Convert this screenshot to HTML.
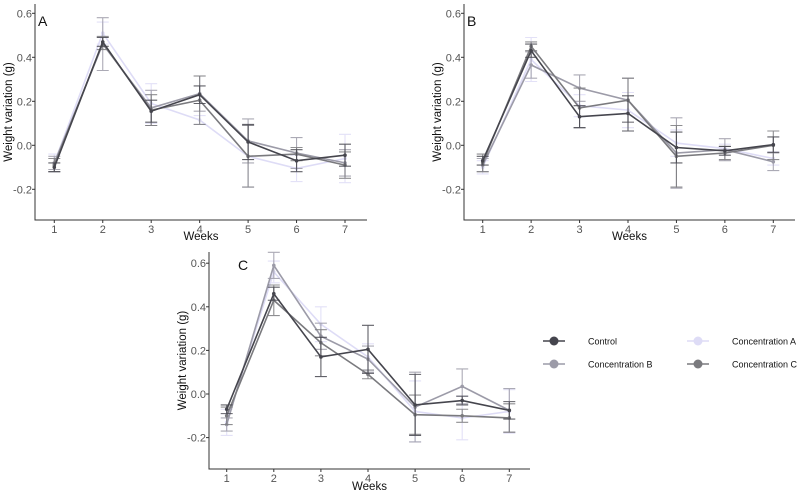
<!DOCTYPE html>
<html><head><meta charset="utf-8"><style>
html,body{margin:0;padding:0;background:#fff;}
svg{display:block;font-family:"Liberation Sans",sans-serif;}
</style></head><body>
<svg id="c" width="800" height="496" viewBox="0 0 800 496"></svg>
<script>
const weeks=[1,2,3,4,5,6,7];
const yTicks=[-0.2,0.0,0.2,0.4,0.6];
const yTickLabels=["-0.2","0.0","0.2","0.4","0.6"];
const seriesNames=["Control","Concentration A","Concentration B","Concentration C"];
const panelLabels=["A","B","C"];
// Panel A
const aControl=[-0.10,0.47,0.155,0.23,0.015,-0.07,-0.045];
const aConcA=[-0.08,0.51,0.19,0.115,-0.05,-0.105,-0.06];
const aConcB=[-0.08,0.46,0.17,0.235,0.02,-0.035,-0.08];
const aConcC=[-0.09,0.465,0.16,0.205,-0.05,-0.04,-0.09];
const aErrControl=[0.02,0.02,0.05,0.04,0.08,0.05,0.05];
const aErrA=[0.04,0.05,0.09,0.02,0.14,0.06,0.11];
const aErrB=[0.03,0.12,0.08,0.08,0.10,0.07,0.06];
const aErrC=[0.03,0.03,0.07,0.11,0.14,0.03,0.06];
// Panel B
const bControl=[-0.07,0.43,0.13,0.145,-0.01,-0.025,0.003];
const bConcA=[-0.10,0.39,0.18,0.16,0.01,-0.015,-0.06];
const bConcB=[-0.09,0.365,0.26,0.205,-0.035,-0.02,-0.075];
const bConcC=[-0.08,0.45,0.17,0.205,-0.05,-0.035,0.0];
const bErrControl=[0.02,0.03,0.05,0.08,0.07,0.02,0.035];
const bErrA=[0.03,0.10,0.05,0.08,0.06,0.02,0.03];
const bErrB=[0.03,0.06,0.06,0.10,0.16,0.05,0.04];
const bErrC=[0.04,0.02,0.09,0.10,0.14,0.03,0.065];
// Panel C
const cControl=[-0.07,0.46,0.17,0.205,-0.05,-0.03,-0.075];
const cConcA=[-0.13,0.56,0.32,0.17,-0.08,-0.11,-0.08];
const cConcB=[-0.14,0.59,0.265,0.16,-0.06,0.035,-0.075];
const cConcC=[-0.10,0.43,0.235,0.09,-0.095,-0.10,-0.11];
const cErrControl=[0.02,0.03,0.09,0.11,0.14,0.02,0.04];
const cErrA=[0.06,0.05,0.08,0.06,0.14,0.10,0.10];
const cErrB=[0.03,0.06,0.06,0.06,0.16,0.08,0.10];
const cErrC=[0.04,0.07,0.06,0.02,0.09,0.03,0.065];

const colors=["#45454d","#dedcf6","#9c9ba8","#7a7a7e"];
const svg=document.getElementById('c');
const NS="http://www.w3.org/2000/svg";
function mk(tag,attrs,parent){const e=document.createElementNS(NS,tag);for(const k in attrs)e.setAttribute(k,attrs[k]);(parent||svg).appendChild(e);return e;}

const panels=[
 {left:35,right:367,top:4,bottom:220,x1:54.3,x7:345,y0:145.3,ppu:220,lab:"A",lx:38,ly:26,title:240,tx:8,
  series:[aControl,aConcA,aConcB,aConcC],err:[aErrControl,aErrA,aErrB,aErrC]},
 {left:464,right:795,top:4,bottom:220,x1:482.7,x7:773.3,y0:145.3,ppu:220,lab:"B",lx:467,ly:26,title:240,tx:437,
  series:[bControl,bConcA,bConcB,bConcC],err:[bErrControl,bErrA,bErrB,bErrC]},
 {left:209,right:530,top:252,bottom:469,x1:226.7,x7:509.3,y0:394,ppu:218,lab:"C",lx:238,ly:270,title:490,tx:182,
  series:[cControl,cConcA,cConcB,cConcC],err:[cErrControl,cErrA,cErrB,cErrC]}
];
panels.forEach((p,pi)=>{
  const g=mk('g',{});
  
  
  const xs=w=>p.x1+(w-1)*(p.x7-p.x1)/6;
  const ys=v=>p.y0-v*p.ppu;
  const ax=mk('path',{d:`M${p.left},${p.top}V${p.bottom}H${p.right}`,stroke:'#333',fill:'none','stroke-width':1},g);
  
  yTicks.forEach((t,i)=>{
    mk('line',{x1:p.left-3,x2:p.left,y1:ys(t),y2:ys(t),stroke:'#333'},g);
    const tx=mk('text',{x:p.left-3,y:ys(t)+4,'text-anchor':'end','font-size':11,fill:'#555'},g);
    tx.textContent=yTickLabels[i];
    
  });
  weeks.forEach(w=>{
    mk('line',{x1:xs(w),x2:xs(w),y1:p.bottom,y2:p.bottom+3,stroke:'#333'},g);
    const tx=mk('text',{x:xs(w),y:p.bottom+13,'text-anchor':'middle','font-size':11,fill:'#555'},g);
    tx.textContent=w;
    
  });
  const xt=mk('text',{x:(p.left+p.right)/2,y:p.title,'text-anchor':'middle','font-size':11.5,fill:'#111'},g);
  xt.textContent='Weeks';
  const cy=(p.top+p.bottom)/2;
  const yt=mk('text',{x:p.tx+4,y:cy,'text-anchor':'middle','font-size':11.5,fill:'#111',transform:`rotate(-90 ${p.tx+4} ${cy})`},g);
  yt.textContent='Weight variation (g)';
  const pl=mk('text',{x:p.lx,y:p.ly,'font-size':14,fill:'#111'},g);
  pl.textContent=p.lab;
  const order=[1,2,3,0];
  order.forEach(si=>{
    const vals=p.series[si],errs=p.err[si],col=colors[si];
    const sg=mk('g',{},g);
    
    
    vals.forEach((v,i)=>{
      const x=xs(weeks[i]),e=errs[i];
      const eb=mk('path',{d:`M${x-6},${ys(v+e)}H${x+6}M${x},${ys(v+e)}V${ys(v-e)}M${x-6},${ys(v-e)}H${x+6}`,stroke:col,fill:'none','stroke-width':1.1,opacity:0.85},sg);
      
    });
    const ln=mk('polyline',{points:vals.map((v,i)=>xs(weeks[i])+','+ys(v)).join(' '),stroke:col,fill:'none','stroke-width':1.6},sg);
    
    vals.forEach((v,i)=>{
      const pt=mk('circle',{cx:xs(weeks[i]),cy:ys(v),r:1.8,fill:col},sg);
      
    });
  });
});
// legend
const lg=mk('g',{});

const lpos=[[554,341],[698,341],[554,364],[698,364]];
seriesNames.forEach((n,i)=>{
  const [x,y]=lpos[i];
  const eg=mk('g',{},lg);
  
  mk('line',{x1:x-11,x2:x+11,y1:y,y2:y,stroke:colors[i],'stroke-width':1.6},eg);
  mk('circle',{cx:x,cy:y,r:4.5,fill:colors[i]},eg);
  const t=mk('text',{x:x+34,y:y+3.5,'font-size':9,fill:'#111'},eg);
  t.textContent=n;
});
</script>
</body></html>
